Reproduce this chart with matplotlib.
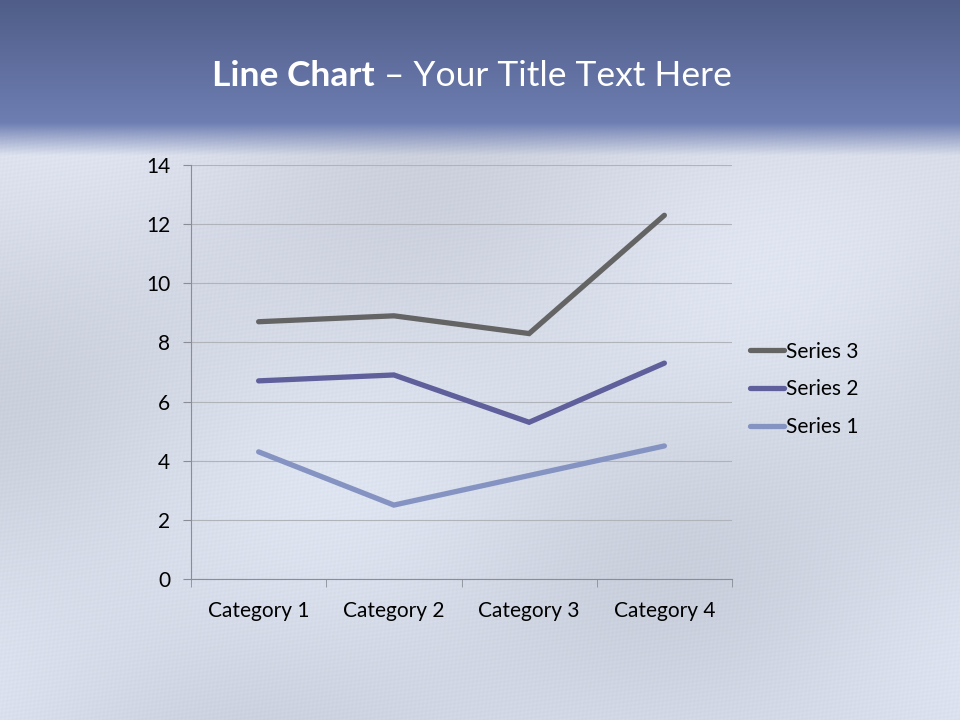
import numpy as np
import matplotlib
matplotlib.use("Agg")
import matplotlib.pyplot as plt

categories = ["Category 1", "Category 2", "Category 3", "Category 4"]
series_names = ["Series 1", "Series 2", "Series 3"]
series1 = [4.3, 2.5, 3.5, 4.5]
series2 = [2.4, 4.4, 1.8, 2.8]
series3 = [2.0, 2.0, 3.0, 5.0]
yticks = [0, 2, 4, 6, 8, 10, 12, 14]
colors = ["#8593c2", "#5f5f9b", "#646464"]

FONT = ["Lato", "DejaVu Sans"]
plt.rcParams["font.family"] = FONT

fig = plt.figure(figsize=(9.6, 7.2), dpi=100)

# background: blue header gradient fading into light fabric-like tone
bg = fig.add_axes([0, 0, 1, 1], zorder=-10)
bg.set_axis_off()
H, W = 720, 960
top = np.array([0x4f, 0x5d, 0x88]) / 255
mid = np.array([0x6e, 0x7e, 0xb2]) / 255
light = np.array([0xd6, 0xdb, 0xe7]) / 255
low = np.array([0xd3, 0xd9, 0xe6]) / 255
yy, xx = np.mgrid[0:H, 0:W].astype(float)
img = np.zeros((H, W, 3))
col = np.zeros((H, 3))
for y in range(H):
    if y < 122:
        t = y / 122
        c = top * (1 - t) + mid * t
    elif y < 155:
        t = (y - 122) / 33
        c = mid * (1 - t) + light * t
    else:
        t = (y - 155) / (H - 155)
        c = light * (1 - t) + low * t
    col[y] = c
img[:] = col[:, None, :]
# soft folds
fold = 0.025 * np.sin((xx * 0.006 + yy * 0.012)) + 0.015 * np.sin(xx * 0.011 - yy * 0.007 + 1.3)
weave = 0.012 * np.sin((xx + yy) * 0.9) * np.sin((xx - yy) * 0.7)
mask = np.clip((yy - 125) / 30, 0, 1)
img = img + ((fold + weave) * mask)[:, :, None]
img = np.clip(img, 0, 1)
bg.imshow(img, aspect="auto", extent=[0, 1, 0, 1], interpolation="bilinear")
bg.set_xlim(0, 1)
bg.set_ylim(0, 1)

ax = fig.add_axes([191 / 960, 1 - 579 / 720, (732 - 191) / 960, (579 - 165) / 720])
ax.patch.set_alpha(0)

x = np.arange(len(categories))
stacked = np.cumsum(np.array([series1, series2, series3]), axis=0)
lines = []
for i in range(3):
    (ln,) = ax.plot(x, stacked[i], color=colors[i], lw=3.8, solid_capstyle="round",
                    solid_joinstyle="miter", label=series_names[i])
    lines.append(ln)

ax.set_xlim(-0.5, len(categories) - 0.5)
ax.set_ylim(0, 14)
ax.set_yticks(yticks)
ax.set_yticklabels([str(v) for v in yticks])
ax.grid(axis="y", color="#b0b3ba", lw=0.8)
ax.set_axisbelow(True)
for s in ["top", "right"]:
    ax.spines[s].set_visible(False)
ax.spines["left"].set_color("#8a8d94")
ax.spines["bottom"].set_color("#8a8d94")
ax.set_xticks(x)
ax.set_xticklabels(categories)
ax.set_xticks(np.arange(-0.5, len(categories)), minor=True)
ax.tick_params(axis="x", which="major", length=0, pad=16, labelsize=15)
ax.tick_params(axis="x", which="minor", length=6, color="#8a8d94", direction="out")
ax.tick_params(axis="y", length=6, color="#8a8d94", pad=9, labelsize=15)

leg = ax.legend(handles=lines[::-1], loc="center left", bbox_to_anchor=(1.007, 0.458),
                frameon=False, fontsize=15, handlelength=1.6, handletextpad=0.1,
                labelspacing=0.85, borderaxespad=0.3)

# title
fig.canvas.draw()
r = fig.canvas.get_renderer()
t1 = fig.text(0, 1 - 76 / 720, "Line Chart", fontsize=25.5, fontweight="bold", color="white",
              va="center", ha="left")
t2 = fig.text(0, 1 - 76 / 720, " \u2013 Your Title Text Here", fontsize=25.5, color="white",
              va="center", ha="left")
w1 = t1.get_window_extent(r).width
w2 = t2.get_window_extent(r).width
start = 472 - (w1 + w2) / 2
t1.set_x(start / 960)
t2.set_x((start + w1) / 960)

fig.savefig("out.png", dpi=100)
